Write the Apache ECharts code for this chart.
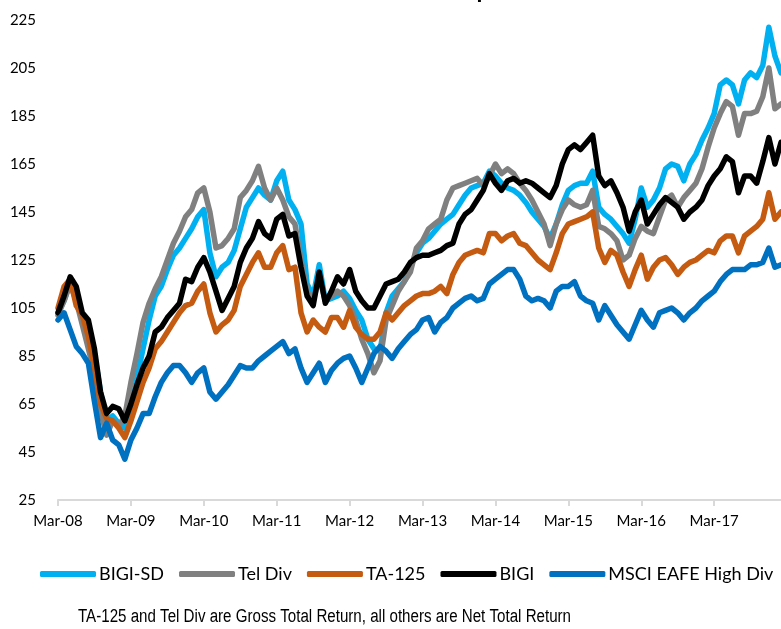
<!DOCTYPE html>
<html>
<head>
<meta charset="utf-8">
<script src="https://cdn.jsdelivr.net/npm/echarts@6/dist/echarts.min.js"></script>
<style>html,body{margin:0;padding:0;background:#fff}#c{width:781px;height:629px}</style>
</head>
<body>
<div id="c"></div>
<script>
// Monthly categories Mar-08 .. Feb-18
const monthNames = ['Jan','Feb','Mar','Apr','May','Jun','Jul','Aug','Sep','Oct','Nov','Dec'];
const categories = [];
for (let i = 0; i < 120; i++) {
  const mi = (2 + i) % 12;
  const yr = 8 + Math.floor((2 + i) / 12);
  categories.push(monthNames[mi] + '-' + String(yr).padStart(2, '0'));
}
const yTicks = [25, 45, 65, 85, 105, 125, 145, 165, 185, 205, 225];

const bigiSD = [103,108,116,110,100,96,86,70,58,60,57,55,63,76,88,100,110,114,121,127,130,134,138,143,146,128,118,122,124,129,138,147,151,155,152,150,158,162,150,146,140,115,110,123,108,109,110,112,109,104,100,92,88,87,103,110,113,116,122,128,132,134,137,140,142,144,148,152,155,156,157,162,160,157,155,154,152,149,145,142,139,134,140,148,154,156,157,157,162,147,144,142,139,136,132,142,155,147,150,155,163,165,164,158,165,169,175,180,186,198,200,198,190,200,203,201,206,222,210,203];
const telDiv = [102,108,115,108,98,88,78,62,52,58,56,60,74,86,99,107,113,118,125,132,137,143,146,153,155,145,130,131,134,138,151,154,158,164,155,150,155,150,143,140,125,112,108,118,108,110,112,110,106,100,92,86,78,83,100,106,112,116,120,130,133,138,140,142,150,155,156,157,158,159,156,160,165,161,163,161,157,154,150,145,140,131,140,146,150,148,147,148,154,139,138,136,133,125,127,134,139,137,136,143,150,152,147,151,154,157,163,172,180,186,191,189,177,186,186,187,193,205,188,190];
const ta125 = [105,114,117,106,102,93,80,65,59,58,55,51,58,66,74,80,88,91,95,99,103,106,107,112,115,103,95,98,100,104,114,119,124,128,122,122,128,131,121,122,103,95,100,97,95,101,101,97,104,97,94,92,92,95,103,100,103,106,108,110,111,111,112,114,111,119,124,127,128,129,128,136,136,133,135,136,132,131,128,125,123,121,128,136,140,141,142,143,145,130,124,129,127,120,114,121,127,117,122,125,126,123,119,122,124,125,127,129,128,133,135,135,128,135,137,139,142,153,142,145];
const bigi = [103,110,118,114,103,100,88,70,61,64,63,58,65,73,80,85,95,97,101,104,107,117,116,122,126,120,112,104,109,114,124,130,134,141,136,134,142,144,135,136,122,110,106,120,107,112,118,115,121,112,108,105,105,110,115,116,117,120,124,126,127,127,128,129,131,132,140,144,146,150,154,161,157,154,158,159,157,158,157,155,153,151,156,165,171,173,171,174,177,160,156,158,153,147,137,145,150,140,144,148,151,149,147,142,145,147,150,156,160,163,168,166,153,160,160,157,166,176,165,174];
const msci = [100,103,96,89,86,82,66,51,57,50,48,42,50,55,61,61,68,74,78,81,81,78,74,78,80,70,67,70,73,77,81,80,80,83,85,87,89,91,86,88,80,74,78,82,74,79,82,84,85,80,74,80,86,89,87,84,88,91,94,96,100,101,95,99,101,105,107,109,110,108,109,115,117,119,121,121,117,110,108,109,108,105,112,114,114,116,110,108,107,100,106,102,98,95,92,98,104,100,97,103,104,105,103,100,103,105,108,110,112,116,119,121,121,121,123,123,124,130,122,123];

const seriesNames = ['BIGI-SD', 'Tel Div', 'TA-125', 'BIGI', 'MSCI EAFE High Div'];
const seriesColors = ['#00B0F0', '#808080', '#C55A11', '#000000', '#0070C0'];
const seriesData = [bigiSD, telDiv, ta125, bigi, msci];

const FONT = 'Lato, "Open Sans", sans-serif';
const chart = echarts.init(document.getElementById('c'), null, {renderer: 'canvas'});
chart.setOption({
  animation: false,
  backgroundColor: '#fff',
  title: {
    text: 'Total Return Index Comparison',
    left: 'center',
    top: -27,
    textStyle: {fontFamily: FONT, fontSize: 24, fontWeight: 'bold', color: '#000'}
  },
  grid: {left: 58, right: 0, top: 20, bottom: 129, containLabel: false},
  legend: {
    data: seriesNames,
    top: 565,
    left: 40,
    width: 760,
    padding: 0,
    itemWidth: 56,
    itemHeight: 6,
    itemGap: 15,
    icon: 'roundRect',
    textStyle: {fontFamily: FONT, fontSize: 18, color: '#000', padding: [0, 0, 0, -2]}
  },
  xAxis: {
    type: 'category',
    data: categories,
    boundaryGap: false,
    axisLine: {lineStyle: {color: '#D9D9D9', width: 2}},
    axisTick: {
      alignWithLabel: true,
      length: 6,
      lineStyle: {color: '#D9D9D9', width: 2},
      interval: function (idx) { return idx % 12 === 0; }
    },
    axisLabel: {
      interval: function (idx) { return idx % 12 === 0; },
      fontFamily: FONT, fontSize: 15, color: '#000', margin: 14
    },
    splitLine: {show: false}
  },
  yAxis: {
    type: 'value',
    min: 25,
    max: 225,
    interval: 20,
    axisLine: {show: false},
    axisTick: {show: false},
    splitLine: {show: false},
    axisLabel: {
      fontFamily: FONT, fontSize: 15, color: '#000', margin: 22,
      formatter: function (v) { return yTicks.indexOf(v) >= 0 ? String(v) : ''; }
    }
  },
  series: seriesNames.map(function (name, i) {
    return {
      name: name,
      type: 'line',
      data: seriesData[i],
      showSymbol: false,
      symbol: 'none',
      color: seriesColors[i],
      lineStyle: {width: 5.5, color: seriesColors[i], cap: 'round', join: 'round'}
    };
  }),
  graphic: [{
    type: 'text',
    x: 78,
    y: 608,
    scaleX: 0.84,
    style: {
      text: 'TA-125 and Tel Div are Gross Total Return, all others are Net Total Return',
      fontFamily: '"Liberation Sans", sans-serif',
      fontSize: 18,
      fill: '#000'
    }
  }]
});
</script>
</body>
</html>
